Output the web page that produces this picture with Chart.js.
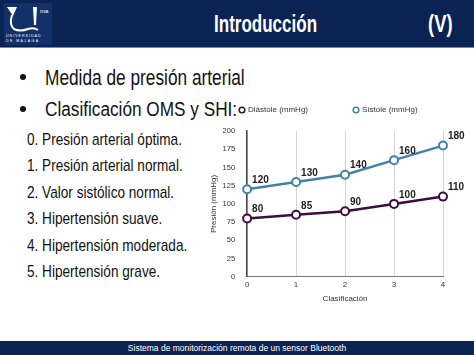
<!DOCTYPE html>
<html><head><meta charset="utf-8">
<script src="https://cdn.jsdelivr.net/npm/chart.js@4"></script>
<style>
html,body{margin:0;padding:0;background:#fff;}
body{width:474px;height:355px;position:relative;overflow:hidden;font-family:"Liberation Sans",Arial,sans-serif;}
#hdr{position:absolute;left:0;top:0;width:474px;height:47px;background:#0b2352;}
#hdrline{position:absolute;left:0;top:47px;width:474px;height:1px;background:#7d8799;}
#logo{position:absolute;left:4px;top:3px;width:48px;height:42px;background:#12306a;}
.t{position:absolute;white-space:nowrap;line-height:1;}
#title{left:214px;top:13px;color:#fff;font-weight:bold;font-size:23px;transform:scaleX(0.74);transform-origin:left top;}
#v{left:428px;top:13px;color:#fff;font-weight:bold;font-size:23px;transform:scaleX(0.8);transform-origin:left top;}
.b{color:#111;transform-origin:left top;}
.dot{position:absolute;width:6px;height:6px;border-radius:3px;background:#111;}
#ftr{position:absolute;left:0;top:341px;width:474px;height:14px;background:#0b2352;color:#fff;font-size:8.5px;text-align:center;line-height:14px;}
#wb{position:absolute;left:238px;top:101px;width:236px;height:209px;background:#fff;}
#c{position:absolute;left:194px;top:60px;}
</style></head><body>
<div id="hdr"></div><div id="hdrline"></div>
<div id="logo">
<svg width="48" height="42" viewBox="0 0 48 42">
<path d="M3 4 L13 4 L9 13 Z" fill="#fff"/>
<path d="M8 12 Q5 22 10 26 Q16 29 24 26 Q30 24 34 27" stroke="#fff" stroke-width="2" fill="none"/>
<path d="M29 4 L33 4 L32 22 L30 22 Z" fill="#fff"/>
<text x="36" y="10" fill="#fff" font-size="6" font-family="Liberation Sans">ma</text>
<text x="2" y="34" fill="#fff" font-size="3.6" font-family="Liberation Sans" letter-spacing="1">UNIVERSIDAD</text>
<text x="2" y="39" fill="#fff" font-size="3.6" font-family="Liberation Sans" letter-spacing="1.4">DE MÁLAGA</text>
</svg></div>
<div id="title" class="t">Introducción</div>
<div id="v" class="t">(V)</div>
<div class="dot" style="left:20px;top:74px;"></div>
<div class="t b" style="left:45px;top:67px;font-size:22px;transform:scaleX(0.785);">Medida de presión arterial</div>
<div class="dot" style="left:20px;top:106px;"></div>
<div class="t b" style="left:45px;top:99px;font-size:20px;transform:scaleX(0.86);">Clasificación OMS y SHI:</div>
<div class="t b" style="left:27px;top:131px;font-size:17px;transform:scaleX(0.8);">0. Presión arterial óptima.</div>
<div class="t b" style="left:27px;top:157px;font-size:17px;transform:scaleX(0.8);">1. Presión arterial normal.</div>
<div class="t b" style="left:27px;top:184px;font-size:17px;transform:scaleX(0.8);">2. Valor sistólico normal.</div>
<div class="t b" style="left:27px;top:210px;font-size:17px;transform:scaleX(0.8);">3. Hipertensión suave.</div>
<div class="t b" style="left:27px;top:237px;font-size:17px;transform:scaleX(0.8);">4. Hipertensión moderada.</div>
<div class="t b" style="left:27px;top:263px;font-size:17px;transform:scaleX(0.8);">5. Hipertensión grave.</div>
<div id="wb"></div>
<canvas id="c" width="280" height="250"></canvas>
<div id="ftr">Sistema de monitorización remota de un sensor Bluetooth</div>
<script>
const categories = ["0","1","2","3","4"];
const diastole = [80, 85, 90, 100, 110];
const sistole = [120, 130, 140, 160, 180];
const yTicks = [0,25,50,75,100,125,150,175,200];
const seriesNames = ["Diástole (mmHg)", "Sístole (mmHg)"];
const FONT = '"Liberation Sans", Arial, sans-serif';

const labelPlugin = {
  id:'vlabels',
  afterDatasetsDraw(chart){
    const ctx = chart.ctx;
    ctx.save();
    ctx.font = 'bold 10px ' + FONT;
    ctx.fillStyle = '#222';
    ctx.textAlign = 'left';
    ctx.textBaseline = 'middle';
    chart.data.datasets.forEach((ds,i)=>{
      const meta = chart.getDatasetMeta(i);
      meta.data.forEach((pt,j)=>{
        ctx.fillText(String(ds.data[j]), pt.x+5, pt.y-9);
      });
    });
    ctx.restore();
  }
};

new Chart(document.getElementById('c'),{
  type:'line',
  data:{
    labels:categories,
    datasets:[
      {label:seriesNames[0],data:diastole,borderColor:'#3d0c40',backgroundColor:'#fff',borderWidth:2.5,pointRadius:4,pointBorderWidth:2,pointBackgroundColor:'#fff',pointBorderColor:'#3d0c40',xAxisID:'x',yAxisID:'y'},
      {label:seriesNames[1],data:sistole,borderColor:'#4282a8',backgroundColor:'#fff',borderWidth:2.5,pointRadius:4,pointBorderWidth:2,pointBackgroundColor:'#fff',pointBorderColor:'#4282a8',xAxisID:'x',yAxisID:'y'}
    ]
  },
  options:{
    responsive:false,animation:false,
    layout:{padding:0},
    plugins:{
      legend:{position:'top',align:'start',
        labels:{usePointStyle:true,pointStyle:'circle',boxWidth:4,boxHeight:4,padding:46,color:'#333',
          font:{size:8,family:FONT},
          generateLabels(chart){
            const items = Chart.defaults.plugins.legend.labels.generateLabels(chart);
            items.forEach(it=>{it.lineWidth=1.5;});
            return items;
          }}},
      tooltip:{enabled:false}
    },
    scales:{
      x:{type:'category',offset:false,position:'bottom',
        grid:{display:true,color:'#d4d4d4',drawTicks:false},
        border:{display:true,color:'#777'},
        ticks:{color:'#333',padding:3,font:{size:8,family:FONT}},
        title:{display:true,text:'Clasificación',color:'#333',padding:{top:2,bottom:6},font:{size:8,family:FONT}}},
      x2:{type:'category',position:'top',display:true,
        grid:{display:false},border:{display:false},ticks:{display:false},
        afterFit(s){s.height=7;}},
      y:{min:0,max:200,position:'left',
        afterBuildTicks(ax){ax.ticks = yTicks.map(v=>({value:v}));},
        grid:{display:false},
        border:{display:true,color:'#444',width:1.5},
        ticks:{color:'#333',padding:4,font:{size:7.5,family:FONT}},
        title:{display:true,text:'Presión (mmHg)',color:'#333',padding:{top:15,bottom:0},font:{size:8,family:FONT}}},
      y2:{type:'linear',position:'right',min:0,max:200,display:true,
        grid:{display:false},border:{display:false},ticks:{display:false},
        afterFit(s){s.width=31;}}
    }
  },
  plugins:[labelPlugin]
});
</script>
</body></html>
